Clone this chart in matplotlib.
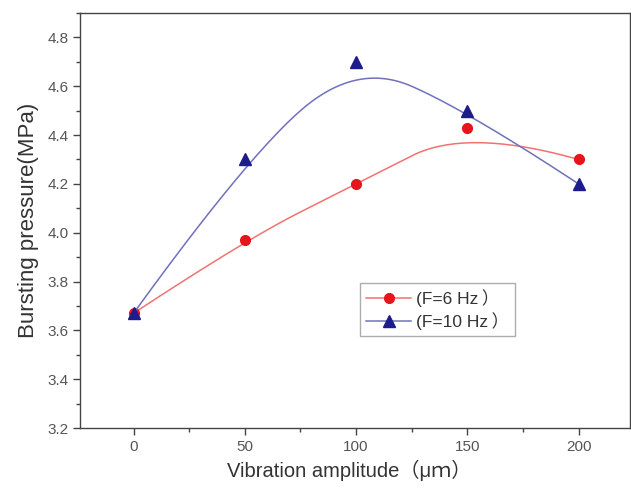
import numpy as np
import matplotlib
matplotlib.use("Agg")
import matplotlib.pyplot as plt
from matplotlib.ticker import MultipleLocator, FormatStrFormatter

# Données
amplitude = [0, 50, 100, 150, 200]
pression_6hz = [3.67, 3.97, 4.20, 4.43, 4.30]
pression_10hz = [3.67, 4.30, 4.70, 4.50, 4.20]
labels = ["(F=6 Hz\u2009）", "(F=10 Hz\u2009）"]

plt.rcParams["font.family"] = ["Liberation Sans", "Noto Sans CJK SC", "DejaVu Sans"]


def bspline_quad(px, py, n=60):
    # B-spline quadratique ancrée aux extrémités (comme le "B-Spline" d'Origin)
    p = np.column_stack([px, py]).astype(float)
    k = len(p) - 1
    pts = []
    for i in range(1, k):
        a = p[0] if i == 1 else (p[i - 1] + p[i]) / 2
        c = p[k] if i == k - 1 else (p[i] + p[i + 1]) / 2
        s = np.linspace(0, 1, n)[:, None]
        pts.append((1 - s) ** 2 * a + 2 * s * (1 - s) * p[i] + s ** 2 * c)
    pts = np.vstack(pts)
    return pts[:, 0], pts[:, 1]


fig = plt.figure(figsize=(6.31, 4.94), dpi=100)
ax = fig.add_axes([0.127, 0.1336, 0.871, 0.840])

for y, lc, mc, mk, ms, lab in [
    (pression_6hz, "#f27272", "#e8141b", "o", 7, labels[0]),
    (pression_10hz, "#7070bc", "#1c1c8c", "^", 8, labels[1]),
]:
    bx, by = bspline_quad(amplitude, y)
    ax.plot(bx, by, color=lc, lw=1.1)
    ax.plot(amplitude, y, linestyle="none", marker=mk, color=mc, ms=ms)
    ax.plot([], [], color=lc, lw=1.1, marker=mk, mfc=mc, mec=mc, ms=ms, label=lab)

ax.set_xlim(-24, 223)
ax.set_ylim(3.2, 4.9)
ax.xaxis.set_major_locator(MultipleLocator(50))
ax.xaxis.set_minor_locator(MultipleLocator(25))
ax.yaxis.set_major_locator(MultipleLocator(0.2))
ax.yaxis.set_minor_locator(MultipleLocator(0.1))
ax.yaxis.set_major_formatter(FormatStrFormatter("%.1f"))

for s in ax.spines.values():
    s.set_color("#444444")
    s.set_linewidth(1.0)
ax.tick_params(which="major", direction="out", length=5, width=1, color="#444444",
               labelsize=11, labelcolor="#555555")
ax.tick_params(which="minor", direction="out", length=3, width=1, color="#444444")
ax.tick_params(top=False, right=False, which="both")

ax.set_xlabel("Vibration amplitude（μｍ）", fontsize=14.5, color="#333333", ha="left")
ax.xaxis.set_label_coords(0.268, -0.077)
ax.set_ylabel("Bursting pressure(MPa)", fontsize=16, color="#333333", labelpad=6)

leg = ax.legend(loc="upper left", bbox_to_anchor=(0.509, 0.349), fontsize=12.5,
                frameon=True, fancybox=False, edgecolor="#999999", borderpad=0.35,
                handlelength=2.6, labelspacing=0.3, handletextpad=0.3,
                borderaxespad=0)
for t in leg.get_texts():
    t.set_color("#333333")

fig.savefig("out.png", dpi=100)
